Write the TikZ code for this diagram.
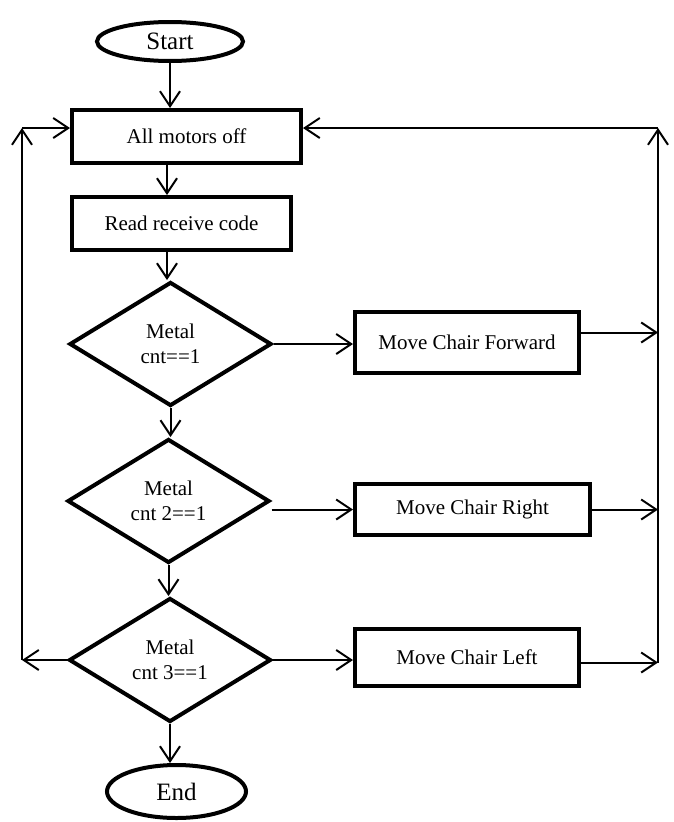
\documentclass[tikz,border=0pt]{standalone}
\usepackage{fontspec}
\setmainfont{Liberation Serif}
\usetikzlibrary{shapes.geometric,arrows.meta}
\begin{document}
\begin{tikzpicture}[x=1pt,y=-1pt,
  box/.style={draw,line width=4pt,inner sep=0pt,font=\fontsize{21}{24}\selectfont},
  term/.style={draw,ellipse,line width=4pt,inner sep=0pt,font=\fontsize{25}{28}\selectfont},
  dec/.style={draw,diamond,line width=4pt,inner sep=0pt,minimum width=202pt,minimum height=124pt,shape aspect=1.6,align=center,font=\fontsize{21}{25}\selectfont},
  conn/.style={line width=2pt,-{Straight Barb[length=15pt,width=20pt]}}
]
\useasboundingbox (0,0) rectangle (673,822);
\fill[white] (0,0) rectangle (673,822);

\node[term,minimum width=146pt,minimum height=39pt] (start) at (170,41.5) {Start};
\node[box,minimum width=229pt,minimum height=53pt] (motors) at (186.5,136.5) {All motors off};
\node[box,minimum width=219pt,minimum height=53pt] (read) at (181.5,223.5) {Read receive code};
\node[dec] (d1) at (170.5,344) {Metal\\cnt==1};
\node[dec] (d2) at (168.5,501) {Metal\\cnt 2==1};
\node[dec] (d3) at (170,660) {Metal\\cnt 3==1};
\node[term,minimum width=139pt,minimum height=53pt] (end) at (176.5,791.5) {End};
\node[box,minimum width=224pt,minimum height=61pt] (fwd) at (467,342.5) {Move Chair Forward};
\node[box,minimum width=235pt,minimum height=51pt] (rgt) at (472.5,509.5) {Move Chair Right};
\node[box,minimum width=224pt,minimum height=57pt] (lft) at (467,657.5) {Move Chair Left};

\coordinate (col) at (167,0);
\coordinate (rtop) at (658,128);
\coordinate (ltop) at (22,128);
\coordinate (rbot) at (658,663);
\coordinate (lbot) at (22,660);

\draw[conn] (start.south) -- (start.south |- motors.north);
\draw[conn] (col |- motors.south) -- (col |- read.north);
\draw[conn] (col |- read.south) -- (col |- d1.north);
\draw[conn] (d1.south) -- (d1.south |- d2.north);
\draw[conn] (d2.south) -- (d2.south |- d3.north);
\draw[conn] (d3.south) -- (d3.south |- end.north);

\draw[conn] (d1.east) -- (d1.east -| fwd.west);
\draw[conn] (d2.east |- rgt.west) -- (rgt.west);
\draw[conn] (d3.east) -- (d3.east -| lft.west);

\draw[conn] ([yshift=10pt]fwd.east) -- ([yshift=10pt]fwd.east -| rtop);
\draw[conn] (rgt.east) -- (rgt.east -| rtop);
\draw[conn] ([yshift=-5pt]lft.east) -- ([yshift=-5pt]lft.east -| rtop);
\draw[conn] (rbot) -- (rtop);
\draw[conn] (rtop) -- (rtop -| motors.east);

\draw[conn] (d3.west) -- (lbot);
\draw[conn] (lbot) -- (ltop);
\draw[conn] (ltop) -- (ltop -| motors.west);
\end{tikzpicture}
\end{document}
